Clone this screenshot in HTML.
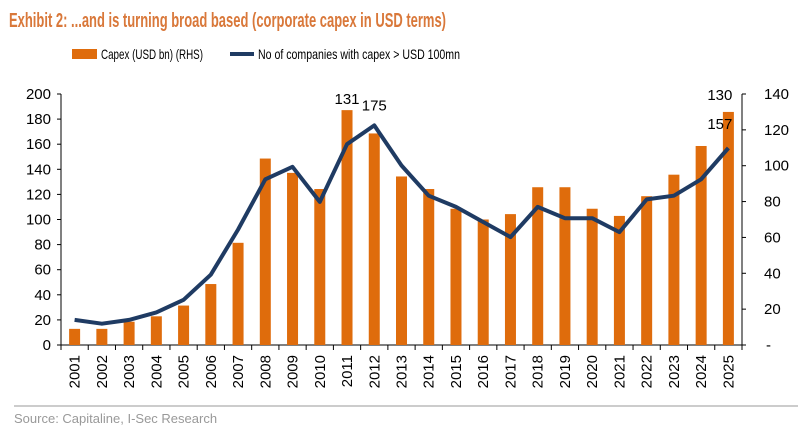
<!DOCTYPE html>
<html><head><meta charset="utf-8"><style>
body{margin:0;background:#fff;width:802px;height:430px;overflow:hidden;font-family:"Liberation Sans",sans-serif}
svg text{font-family:"Liberation Sans",sans-serif}
</style></head><body>
<svg id="chart" width="802" height="430" xmlns="http://www.w3.org/2000/svg">
<text x="9" y="27" font-size="20" font-weight="bold" fill="#d9783a" textLength="437" lengthAdjust="spacingAndGlyphs">Exhibit 2: ...and is turning broad based (corporate capex in USD terms)</text>
<g>
<rect x="72" y="49" width="25" height="10" fill="#df6c0c"/>
<text x="101" y="59" font-size="14" fill="#000" textLength="102" lengthAdjust="spacingAndGlyphs">Capex (USD bn) (RHS)</text>
<line x1="230" y1="54" x2="254" y2="54" stroke="#1f3b63" stroke-width="4"/>
<text x="258" y="59" font-size="14" fill="#000" textLength="202" lengthAdjust="spacingAndGlyphs">No of companies with capex &gt; USD 100mn</text>
</g>
<g id="axes"></g>
<g id="bars"></g>
<g id="line"></g>
<g id="labels"></g>
<line x1="14" y1="406" x2="798" y2="406" stroke="#999" stroke-width="1"/>
<text x="14" y="423" font-size="13" fill="#999">Source: Capitaline, I-Sec Research</text>
</svg>
<script>
const years=["2001","2002","2003","2004","2005","2006","2007","2008","2009","2010","2011","2012","2013","2014","2015","2016","2017","2018","2019","2020","2021","2022","2023","2024","2025"];
const capex=[9,9,13,16,22,34,57,104,96,87,131,118,94,87,76,70,73,88,88,76,72,83,95,111,130];
const companies=[20,17,20,26,36,56,92,132,142,114,160,175,143,119,110,98,86,110,101,101,90,116,119,132,157];
const leftTicks=[0,20,40,60,80,100,120,140,160,180,200];
const rightTicks=[0,20,40,60,80,100,120,140];
const NS="http://www.w3.org/2000/svg";
const X0=61,X1=742,Y0=345,Y1=94;
const step=(X1-X0)/years.length;
const xc=i=>X0+step*(i+0.5);
const yL=v=>Y0-(v/200)*(Y0-Y1);
const yR=v=>Y0-(v/140)*(Y0-Y1);
function mk(tag,attrs,parent,txt){const e=document.createElementNS(NS,tag);for(const k in attrs)e.setAttribute(k,attrs[k]);if(txt!==undefined)e.textContent=txt;document.getElementById(parent).appendChild(e);return e;}
let e=mk('line',{x1:X0,y1:Y1,x2:X0,y2:Y0,stroke:'#000','stroke-width':1},'axes');


e=mk('line',{x1:X1,y1:Y1,x2:X1,y2:Y0,stroke:'#000','stroke-width':1},'axes');


e=mk('line',{x1:X0,y1:Y0,x2:X1,y2:Y0,stroke:'#000','stroke-width':1},'axes');


leftTicks.forEach(v=>{
 const t=mk('line',{x1:X0-4,y1:yL(v),x2:X0,y2:yL(v),stroke:'#000'},'axes');
 
 
 const l=mk('text',{x:X0-10,y:yL(v)+5,'font-size':15,'text-anchor':'end',fill:'#000'},'axes',String(v));
 
 
});
rightTicks.forEach(v=>{
 const t=mk('line',{x1:X1,y1:yR(v),x2:X1+4,y2:yR(v),stroke:'#000'},'axes');
 
 
 const l=mk('text',{x:v===0?X1+24:X1+22,y:yR(v)+5,'font-size':15,'text-anchor':'start',fill:'#000'},'axes',v===0?'-':String(v));
 
 
});
years.forEach((y,i)=>{
 const t=mk('line',{x1:X0+step*i,y1:Y0,x2:X0+step*i,y2:Y0+5,stroke:'#000'},'axes');
 
 
 const l=mk('text',{x:0,y:0,'font-size':15,'text-anchor':'end',fill:'#000',transform:`translate(${xc(i)+5},${Y0+10}) rotate(-90)`},'axes',y);
 
 
});
e=mk('line',{x1:X1,y1:Y0,x2:X1,y2:Y0+5,stroke:'#000'},'axes');


capex.forEach((v,i)=>{
 const b=mk('rect',{x:xc(i)-5.5,y:yR(v),width:11,height:Y0-yR(v),fill:'#df6c0c'},'bars');
 
 
});
const pts=companies.map((v,i)=>xc(i).toFixed(1)+','+yL(v).toFixed(1)).join(' ');
e=mk('polyline',{points:pts,fill:'none',stroke:'#1f3b63','stroke-width':4,'stroke-linejoin':'round'},'line');


const i11=10,i12=11,i25=24;
e=mk('text',{x:xc(i11),y:yR(capex[i11])-6,'font-size':15,'text-anchor':'middle'},'labels',String(capex[i11]));


e=mk('text',{x:xc(i12),y:yL(companies[i12])-15,'font-size':15,'text-anchor':'middle'},'labels',String(companies[i12]));


e=mk('text',{x:xc(i25)+4,y:yR(capex[i25])-12,'font-size':15,'text-anchor':'end'},'labels',String(capex[i25]));


e=mk('text',{x:xc(i25)+4,y:yL(companies[i25])-19,'font-size':15,'text-anchor':'end'},'labels',String(companies[i25]));


</script>
</body></html>
